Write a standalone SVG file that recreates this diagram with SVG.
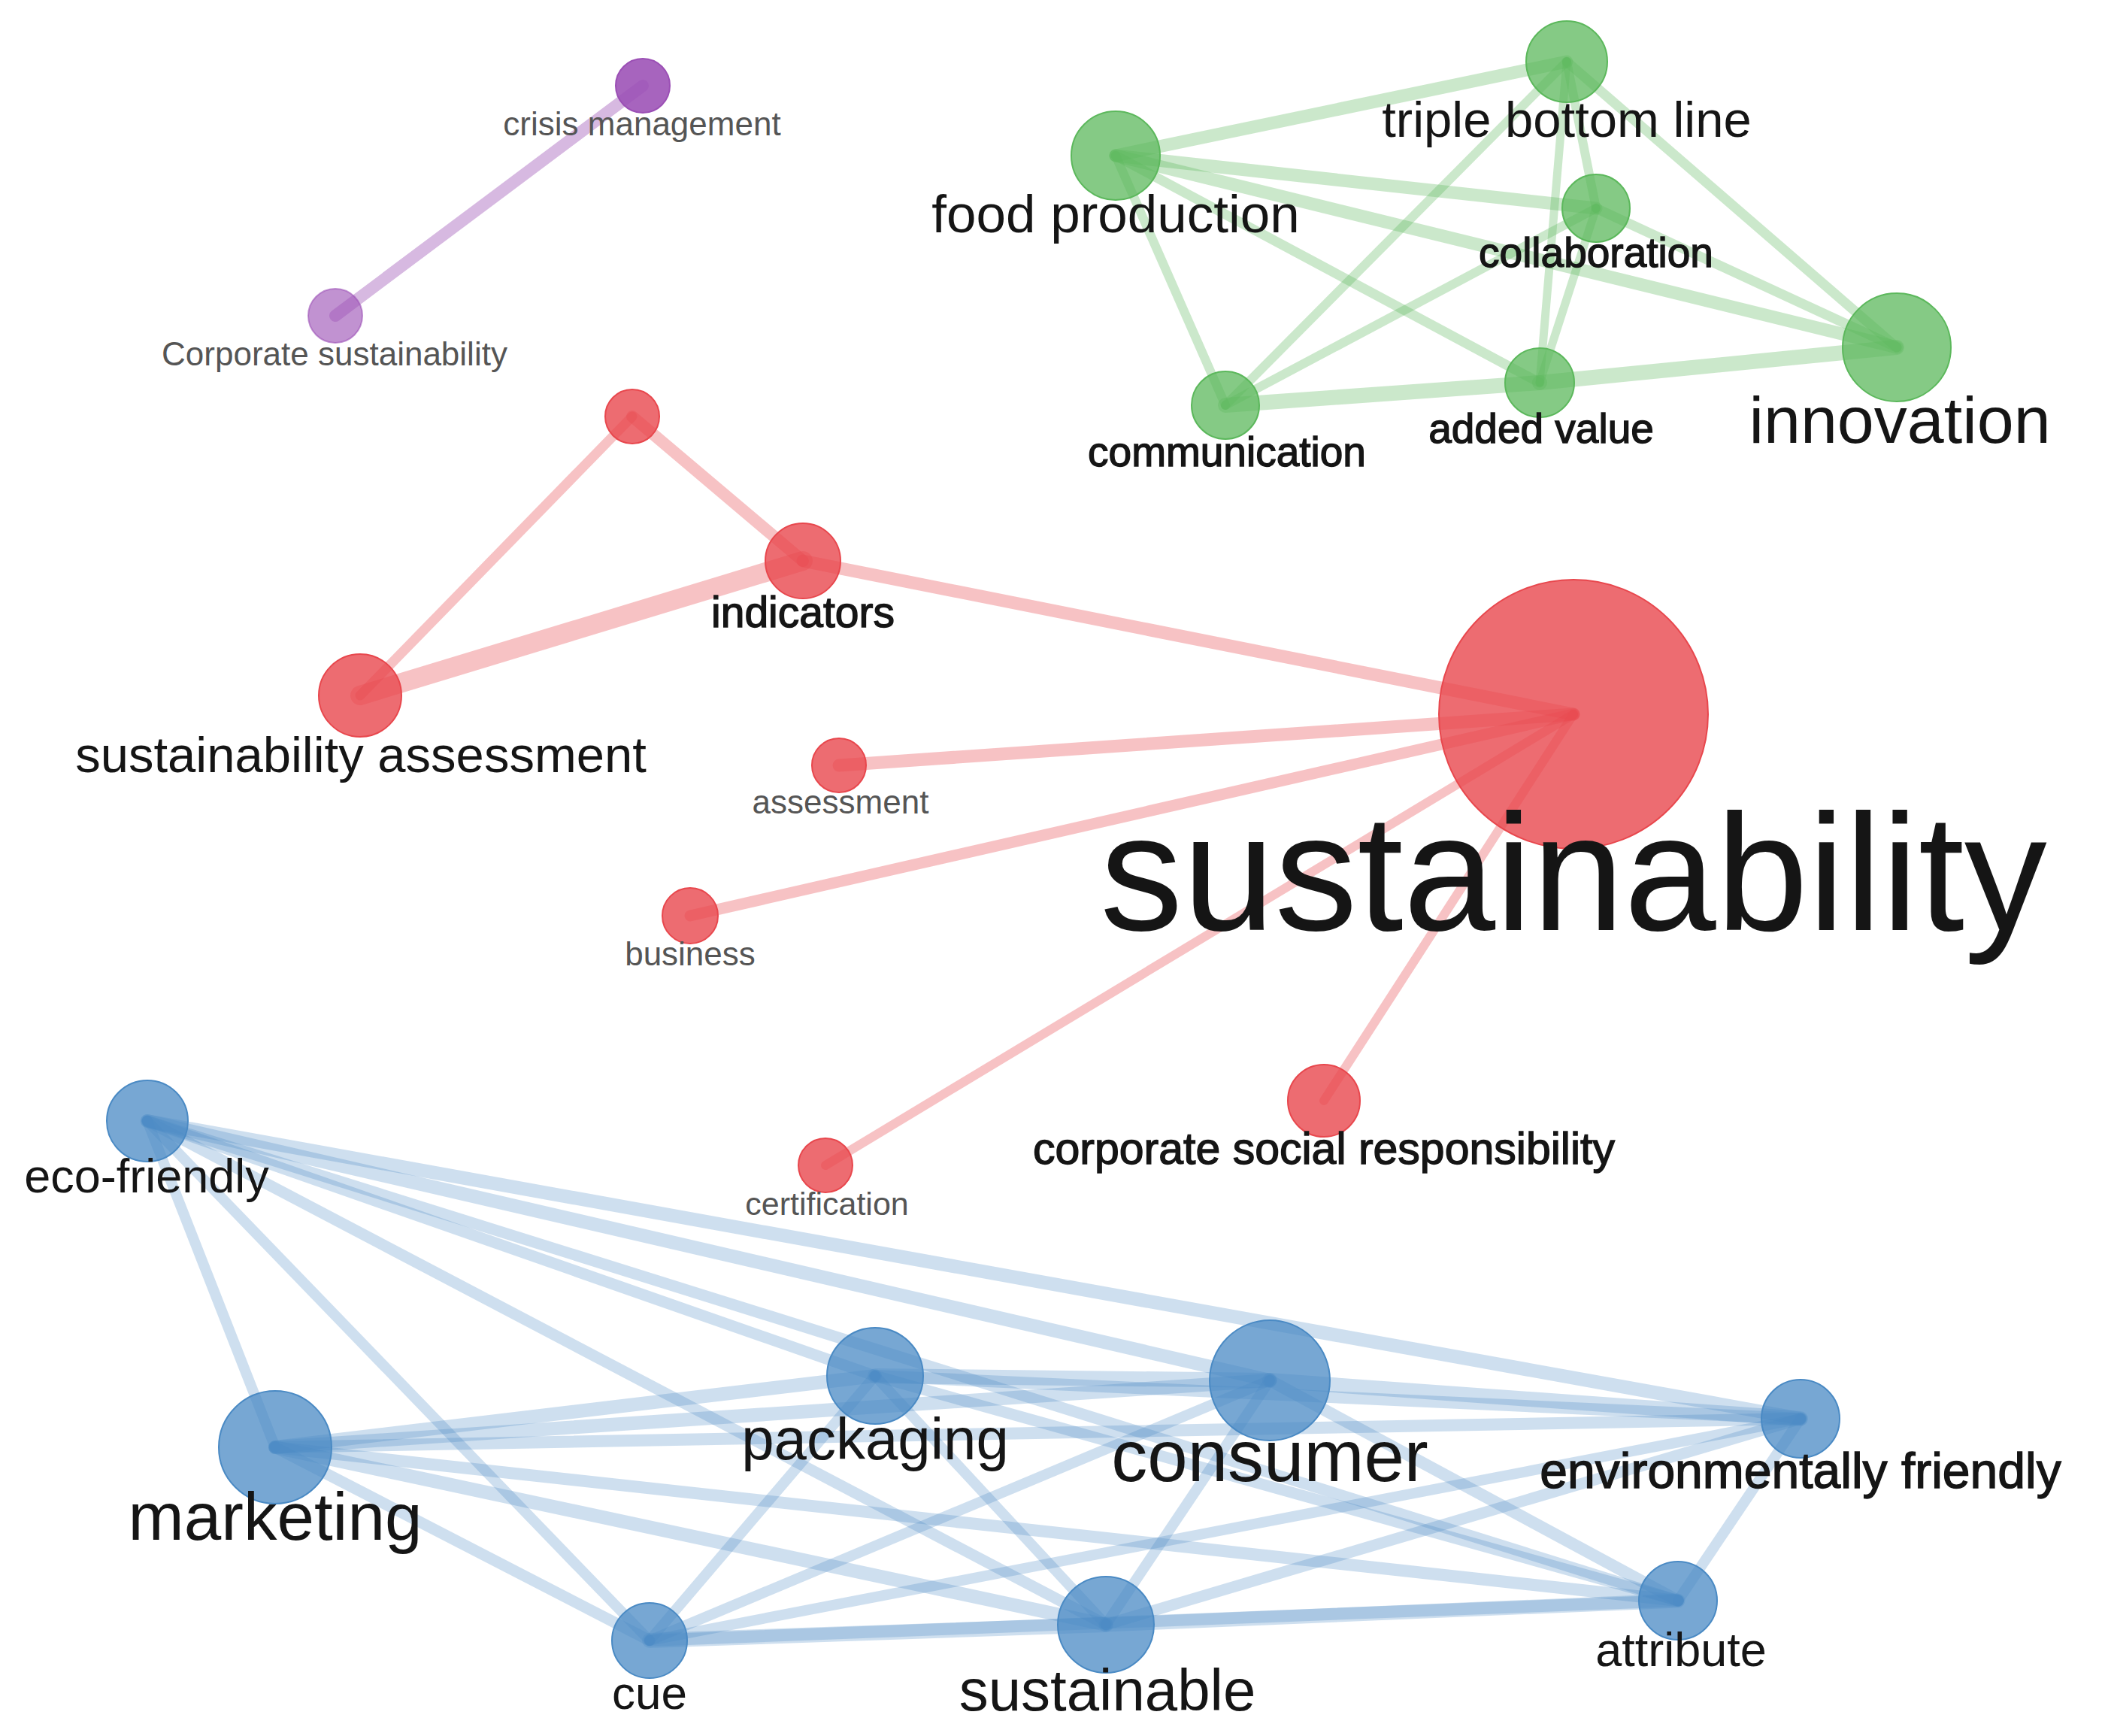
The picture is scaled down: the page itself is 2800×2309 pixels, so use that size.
<svg xmlns="http://www.w3.org/2000/svg" width="2800" height="2309" viewBox="0 0 2800 2309">
<style>
text{font-family:"Liberation Sans",Arial,sans-serif;text-anchor:middle;fill:#151515}
.sm{fill:#555}
.b{stroke:#151515;stroke-width:1.4}
.ep{stroke:#9b4fb5;stroke-opacity:.4;stroke-linecap:round}
.eg{stroke:#5cb85c;stroke-opacity:.32;stroke-linecap:round}
.er{stroke:#e8474d;stroke-opacity:.33;stroke-linecap:round}
.eb{stroke:#4a8ac4;stroke-opacity:.27;stroke-linecap:round}
.np{fill:#9b4fb5;fill-opacity:.88;stroke:#9b4fb5;stroke-width:2}
.ng{fill:#5cb85c;fill-opacity:.75;stroke:#5cb85c;stroke-width:2}
.nr{fill:#e8474d;fill-opacity:.8;stroke:#e8474d;stroke-width:2}
.nb{fill:#4a8ac4;fill-opacity:.75;stroke:#4a8ac4;stroke-width:2}
</style>
<rect width="2800" height="2309" fill="#fff"/>
<g id="connectors" fill="none">
<line class="ep" x1="855" y1="114" x2="446" y2="420" stroke-width="16"/>
<line class="eg" x1="1484" y1="207" x2="2084" y2="82" stroke-width="17"/>
<line class="eg" x1="1484" y1="207" x2="2123" y2="277" stroke-width="17"/>
<line class="eg" x1="1484" y1="207" x2="2523" y2="462" stroke-width="17"/>
<line class="eg" x1="1484" y1="207" x2="1630" y2="539" stroke-width="12"/>
<line class="eg" x1="1484" y1="207" x2="2048" y2="509" stroke-width="13"/>
<line class="eg" x1="2084" y1="82" x2="1630" y2="539" stroke-width="12"/>
<line class="eg" x1="2084" y1="82" x2="2123" y2="277" stroke-width="12"/>
<line class="eg" x1="2084" y1="82" x2="2048" y2="509" stroke-width="11"/>
<line class="eg" x1="2084" y1="82" x2="2523" y2="462" stroke-width="13"/>
<line class="eg" x1="2123" y1="277" x2="1630" y2="539" stroke-width="12"/>
<line class="eg" x1="2123" y1="277" x2="2048" y2="509" stroke-width="11"/>
<line class="eg" x1="2123" y1="277" x2="2523" y2="462" stroke-width="13"/>
<line class="eg" x1="1630" y1="539" x2="2048" y2="509" stroke-width="20"/>
<line class="eg" x1="2048" y1="509" x2="2523" y2="462" stroke-width="20"/>
<line class="er" x1="841" y1="554" x2="479" y2="925" stroke-width="13"/>
<line class="er" x1="841" y1="554" x2="1068" y2="746" stroke-width="16"/>
<line class="er" x1="479" y1="925" x2="1068" y2="746" stroke-width="26"/>
<line class="er" x1="1068" y1="746" x2="2093" y2="950" stroke-width="17"/>
<line class="er" x1="1116" y1="1018" x2="2093" y2="950" stroke-width="17"/>
<line class="er" x1="918" y1="1218" x2="2093" y2="950" stroke-width="15"/>
<line class="er" x1="1098" y1="1550" x2="2093" y2="950" stroke-width="12"/>
<line class="er" x1="1761" y1="1464" x2="2093" y2="950" stroke-width="12"/>
<line class="eb" x1="196" y1="1491" x2="366" y2="1925" stroke-width="14"/>
<line class="eb" x1="196" y1="1491" x2="864" y2="2182" stroke-width="14"/>
<line class="eb" x1="196" y1="1491" x2="1164" y2="1830" stroke-width="15"/>
<line class="eb" x1="196" y1="1491" x2="1689" y2="1836" stroke-width="18"/>
<line class="eb" x1="196" y1="1491" x2="2395" y2="1887" stroke-width="18"/>
<line class="eb" x1="196" y1="1491" x2="1471" y2="2161" stroke-width="15"/>
<line class="eb" x1="196" y1="1491" x2="2232" y2="2129" stroke-width="15"/>
<line class="eb" x1="366" y1="1925" x2="1164" y2="1830" stroke-width="18"/>
<line class="eb" x1="366" y1="1925" x2="1689" y2="1836" stroke-width="18"/>
<line class="eb" x1="366" y1="1925" x2="2395" y2="1887" stroke-width="16"/>
<line class="eb" x1="366" y1="1925" x2="864" y2="2182" stroke-width="15"/>
<line class="eb" x1="366" y1="1925" x2="1471" y2="2161" stroke-width="18"/>
<line class="eb" x1="366" y1="1925" x2="2232" y2="2129" stroke-width="16"/>
<line class="eb" x1="864" y1="2182" x2="1164" y2="1830" stroke-width="14"/>
<line class="eb" x1="864" y1="2182" x2="1689" y2="1836" stroke-width="14"/>
<line class="eb" x1="864" y1="2182" x2="2395" y2="1887" stroke-width="14"/>
<line class="eb" x1="864" y1="2182" x2="1471" y2="2161" stroke-width="20"/>
<line class="eb" x1="864" y1="2182" x2="2232" y2="2129" stroke-width="16"/>
<line class="eb" x1="1164" y1="1830" x2="1689" y2="1836" stroke-width="20"/>
<line class="eb" x1="1164" y1="1830" x2="2395" y2="1887" stroke-width="16"/>
<line class="eb" x1="1164" y1="1830" x2="1471" y2="2161" stroke-width="14"/>
<line class="eb" x1="1164" y1="1830" x2="2232" y2="2129" stroke-width="15"/>
<line class="eb" x1="1689" y1="1836" x2="2395" y2="1887" stroke-width="20"/>
<line class="eb" x1="1689" y1="1836" x2="1471" y2="2161" stroke-width="14"/>
<line class="eb" x1="1689" y1="1836" x2="2232" y2="2129" stroke-width="16"/>
<line class="eb" x1="2395" y1="1887" x2="1471" y2="2161" stroke-width="15"/>
<line class="eb" x1="2395" y1="1887" x2="2232" y2="2129" stroke-width="14"/>
<line class="eb" x1="1471" y1="2161" x2="2232" y2="2129" stroke-width="19"/>
</g>
<g id="n-crisis-management"><circle class="np" cx="855" cy="114" r="36"/><text class="sm" x="854" y="180" font-size="44">crisis management</text></g>
<g id="n-corporate-sustainability"><circle class="np" cx="446" cy="420" r="36" style="fill-opacity:.62;stroke-opacity:.6"/><text class="sm" x="445" y="486" font-size="44">Corporate sustainability</text></g>
<g id="n-triple-bottom-line"><circle class="ng" cx="2084" cy="82" r="54"/><text x="2084" y="182" font-size="67">triple bottom line</text></g>
<g id="n-food-production"><circle class="ng" cx="1484" cy="207" r="59"/><text x="1484" y="309" font-size="71">food production</text></g>
<g id="n-collaboration"><circle class="ng" cx="2123" cy="277" r="45"/><text class="b" x="2123" y="355" font-size="55">collaboration</text></g>
<g id="n-innovation"><circle class="ng" cx="2523" cy="462" r="72"/><text x="2527" y="589" font-size="88">innovation</text></g>
<g id="n-communication"><circle class="ng" cx="1630" cy="539" r="45"/><text class="b" x="1632" y="620" font-size="55">communication</text></g>
<g id="n-added-value"><circle class="ng" cx="2048" cy="509" r="46"/><text class="b" x="2050" y="589" font-size="55">added value</text></g>
<g id="n-unlabeled"><circle class="nr" cx="841" cy="554" r="36"/></g>
<g id="n-indicators"><circle class="nr" cx="1068" cy="746" r="50"/><text class="b" x="1068" y="834" font-size="57">indicators</text></g>
<g id="n-sustainability-assessment"><circle class="nr" cx="479" cy="925" r="55"/><text x="480" y="1027" font-size="67">sustainability assessment</text></g>
<g id="n-sustainability"><circle class="nr" cx="2093" cy="950" r="179"/><text x="2093" y="1237" font-size="220">sustainability</text></g>
<g id="n-assessment"><circle class="nr" cx="1116" cy="1018" r="36"/><text class="sm" x="1118" y="1082" font-size="44">assessment</text></g>
<g id="n-business"><circle class="nr" cx="918" cy="1218" r="37"/><text class="sm" x="918" y="1284" font-size="44">business</text></g>
<g id="n-csr"><circle class="nr" cx="1761" cy="1464" r="48"/><text class="b" x="1761" y="1548" font-size="59">corporate social responsibility</text></g>
<g id="n-certification"><circle class="nr" cx="1098" cy="1550" r="36"/><text class="sm" x="1100" y="1616" font-size="43">certification</text></g>
<g id="n-eco-friendly"><circle class="nb" cx="196" cy="1491" r="54"/><text x="195" y="1586" font-size="63">eco-friendly</text></g>
<g id="n-marketing"><circle class="nb" cx="366" cy="1925" r="75"/><text x="366" y="2048" font-size="89">marketing</text></g>
<g id="n-packaging"><circle class="nb" cx="1164" cy="1830" r="64"/><text x="1164" y="1941" font-size="78">packaging</text></g>
<g id="n-consumer"><circle class="nb" cx="1689" cy="1836" r="80"/><text x="1689" y="1970" font-size="96">consumer</text></g>
<g id="n-environmentally-friendly"><circle class="nb" cx="2395" cy="1887" r="52"/><text class="b" x="2395" y="1979" font-size="66">environmentally friendly</text></g>
<g id="n-cue"><circle class="nb" cx="864" cy="2182" r="50"/><text x="864" y="2273" font-size="62">cue</text></g>
<g id="n-sustainable"><circle class="nb" cx="1471" cy="2161" r="64"/><text x="1473" y="2275" font-size="78">sustainable</text></g>
<g id="n-attribute"><circle class="nb" cx="2232" cy="2129" r="52"/><text x="2236" y="2216" font-size="63">attribute</text></g>
</svg>
